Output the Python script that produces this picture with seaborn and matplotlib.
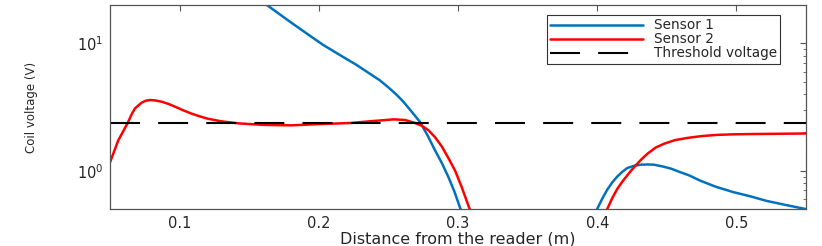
import numpy as np
import pandas as pd
import matplotlib
matplotlib.use("Agg")
import matplotlib.pyplot as plt
import seaborn as sns
from matplotlib.ticker import NullFormatter, LogLocator, FixedLocator

# values (distance in m, voltage in V)
s1_left_x = [0.155, 0.162, 0.1787, 0.19, 0.2028, 0.215, 0.2269, 0.2437, 0.2495,
             0.2558, 0.2605, 0.2654, 0.2726, 0.278, 0.2834, 0.2885, 0.2931,
             0.2975, 0.3015, 0.305]
s1_left_v = [23.0, 20.2, 14.9, 12.2, 9.75, 8.1, 6.78, 5.13, 4.55,
             3.95, 3.5, 3.02, 2.42, 1.9, 1.45, 1.14, 0.89,
             0.68, 0.51, 0.42]
s1_right_x = [0.397, 0.3999, 0.4035, 0.4072, 0.4108, 0.4144, 0.418, 0.4216,
              0.426, 0.4312, 0.436, 0.4408, 0.447, 0.4529, 0.459, 0.466,
              0.4736, 0.485, 0.4977, 0.51, 0.5217, 0.535, 0.55]
s1_right_v = [0.43, 0.50, 0.60, 0.71, 0.81, 0.90, 0.98, 1.05,
              1.09, 1.115, 1.12, 1.115, 1.08, 1.04, 0.98, 0.92,
              0.84, 0.75, 0.68, 0.63, 0.58, 0.54, 0.50]

s2_left_x = [0.05, 0.0558, 0.0595, 0.063, 0.0655, 0.0678, 0.0726, 0.0755, 0.0787,
             0.0825, 0.087, 0.092, 0.0967, 0.1025, 0.1087, 0.114, 0.1195, 0.125,
             0.13, 0.143, 0.16, 0.18, 0.199, 0.223, 0.24, 0.254, 0.262, 0.269,
             0.274, 0.2787, 0.2835, 0.2885, 0.293, 0.2979, 0.3027, 0.3075, 0.31]
s2_left_v = [1.17, 1.73, 2.05, 2.42, 2.78, 3.08, 3.42, 3.54, 3.59,
             3.56, 3.48, 3.34, 3.18, 2.98, 2.80, 2.68, 2.57, 2.50,
             2.44, 2.35, 2.29, 2.27, 2.32, 2.37, 2.46, 2.53, 2.50, 2.37,
             2.25, 2.08, 1.83, 1.54, 1.26, 1.0, 0.74, 0.53, 0.45]
s2_right_x = [0.404, 0.4072, 0.4108, 0.4144, 0.418, 0.4216, 0.4246, 0.4276,
              0.4318, 0.4361, 0.442, 0.4481, 0.456, 0.465, 0.475, 0.4856,
              0.4975, 0.5097, 0.53, 0.55]
s2_right_v = [0.44, 0.50, 0.61, 0.72, 0.82, 0.92, 1.01, 1.10,
              1.23, 1.36, 1.52, 1.63, 1.74, 1.81, 1.87, 1.91,
              1.93, 1.94, 1.95, 1.96]

threshold = 2.38

# build a long table, one unit per curve piece
parts = []
for name, seg, xs, vs in [("Sensor 1", "a", s1_left_x, s1_left_v),
                          ("Sensor 1", "b", s1_right_x, s1_right_v),
                          ("Sensor 2", "a", s2_left_x, s2_left_v),
                          ("Sensor 2", "b", s2_right_x, s2_right_v)]:
    parts.append(pd.DataFrame({"x": xs, "v": vs, "sensor": name, "seg": name + seg}))
df = pd.concat(parts, ignore_index=True)

sns.set_style("white")
plt.rcParams['font.family'] = ['DejaVu Sans']
plt.rcParams['mathtext.fontset'] = 'dejavusans'

fig = plt.figure(figsize=(8.22, 2.46), dpi=100)
ax = fig.add_axes([0.134, 0.150, 0.8465, 0.830])

sns.lineplot(data=df, x="x", y="v", hue="sensor", units="seg", estimator=None,
             sort=False, palette={"Sensor 1": "#0072BD", "Sensor 2": "#FF0000"},
             linewidth=1.8, ax=ax)
for ln in ax.get_lines():
    ln.set_solid_joinstyle("round")
ax.axhline(threshold, color="black", linewidth=1.5, dashes=(14.4, 8.7),
           label="Threshold voltage")

ax.set_yscale("log")
ax.set_xlim(0.05, 0.55)
ax.set_ylim(0.5, 20)
ax.set_xticks([0.1, 0.2, 0.3, 0.4, 0.5])
ax.set_xticklabels(["0.1", "0.2", "0.3", "0.4", "0.5"])
ax.yaxis.set_major_locator(FixedLocator([1, 10]))
ax.yaxis.set_minor_locator(LogLocator(base=10, subs=np.arange(2, 10)))
ax.yaxis.set_minor_formatter(NullFormatter())

txt = "#262626"
for sp in ax.spines.values():
    sp.set_color("#555555")
    sp.set_linewidth(0.9)
ax.tick_params(which="both", direction="in", top=True, right=True,
               colors="#555555", labelcolor=txt, labelsize=10.5)
ax.tick_params(which="major", length=4, width=0.8, pad=5)
ax.tick_params(which="minor", length=2.5, width=0.6)

ax.set_xlabel("Distance from the reader (m)", fontsize=11.5, color=txt, labelpad=0)
ax.set_ylabel("Coil voltage (V)", fontsize=8.5, color=txt, labelpad=28)

h, l = ax.get_legend_handles_labels()
leg = ax.legend(h, l, loc="upper right", bbox_to_anchor=(0.963, 0.951),
                borderaxespad=0, fontsize=9.8, labelspacing=0.0,
                handlelength=6.8, handletextpad=0.8, borderpad=0.25,
                fancybox=False, framealpha=1, edgecolor="#333333")
leg.get_frame().set_linewidth(0.8)
for t in leg.get_texts():
    t.set_color(txt)

fig.savefig("out.png", dpi=100)
